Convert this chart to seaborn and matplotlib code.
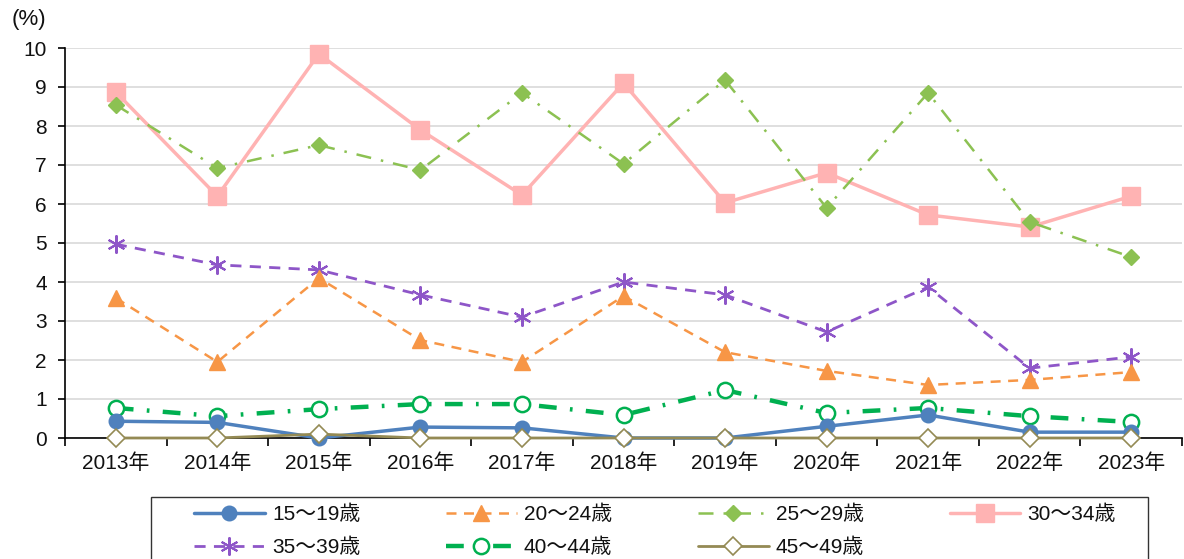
import matplotlib
matplotlib.use("Agg")
import matplotlib.pyplot as plt
from matplotlib.patches import Rectangle
import seaborn as sns
import pandas as pd

years = ["2013年", "2014年", "2015年", "2016年", "2017年", "2018年",
         "2019年", "2020年", "2021年", "2022年", "2023年"]
age_groups = ["15～19歳", "20～24歳", "25～29歳", "30～34歳",
              "35～39歳", "40～44歳", "45～49歳"]

rate_15_19 = [0.43, 0.40, 0.00, 0.28, 0.26, 0.00, 0.00, 0.30, 0.59, 0.15, 0.15]
rate_20_24 = [3.59, 1.95, 4.10, 2.51, 1.95, 3.64, 2.20, 1.72, 1.36, 1.49, 1.69]
rate_25_29 = [8.54, 6.92, 7.51, 6.87, 8.85, 7.03, 9.18, 5.90, 8.85, 5.54, 4.64]
rate_30_34 = [8.87, 6.20, 9.85, 7.90, 6.23, 9.10, 6.03, 6.80, 5.72, 5.41, 6.20]
rate_35_39 = [4.97, 4.44, 4.31, 3.67, 3.10, 4.00, 3.67, 2.72, 3.87, 1.79, 2.08]
rate_40_44 = [0.77, 0.56, 0.74, 0.87, 0.87, 0.59, 1.23, 0.64, 0.77, 0.56, 0.41]
rate_45_49 = [0.00, 0.00, 0.10, 0.00, 0.00, 0.00, 0.00, 0.00, 0.00, 0.00, 0.00]

series = [rate_15_19, rate_20_24, rate_25_29, rate_30_34,
          rate_35_39, rate_40_44, rate_45_49]

sns.set_theme(style="white")
plt.rcParams["font.family"] = ["Liberation Sans", "Noto Sans CJK JP", "DejaVu Sans"]

df = pd.DataFrame({
    "year": years * len(age_groups),
    "group": [g for g in age_groups for _ in years],
    "rate": [v for s in series for v in s],
})

styles = {
    "15～19歳": dict(color="#4f81bd", ls="-", lw=2.5, marker="o", ms=10,
                    mfc="#4f81bd", mec="#4f81bd", mew=1.5),
    "20～24歳": dict(color="#f79646", ls=(0, (4, 3)), lw=1.8, marker="^", ms=12,
                    mfc="#f79646", mec="#f79646", mew=1.0),
    "25～29歳": dict(color="#8cc152", ls=(0, (6, 4, 1, 4)), lw=1.8, marker="D", ms=8,
                    mfc="#8cc152", mec="#8cc152", mew=1.0),
    "30～34歳": dict(color="#ffb3b3", ls="-", lw=2.5, marker="s", ms=13,
                    mfc="#ffb3b3", mec="#ffb3b3", mew=1.0),
    "35～39歳": dict(color="#8e56c8", ls=(0, (4, 3)), lw=2.0, marker=(6, 2, 0), ms=13,
                    mfc="#8e56c8", mec="#8e56c8", mew=1.5),
    "40～44歳": dict(color="#00b050", ls=(0, (4, 3, 0.6, 3)), lw=3.2, marker="o", ms=11,
                    mfc="white", mec="#00b050", mew=1.8),
    "45～49歳": dict(color="#948a54", ls="-", lw=2.0, marker="D", ms=9,
                    mfc="white", mec="#948a54", mew=1.2),
}

W, H = 1184, 559
fig = plt.figure(figsize=(W / 100, H / 100), dpi=100)
ax = fig.add_axes([65 / W, 1 - 438 / H, (1182 - 65) / W, (438 - 48) / H])

# Layering: the pink and green series sit under the rest, the 45～49 line on top
order = ["30～34歳", "25～29歳", "35～39歳", "20～24歳", "40～44歳", "15～19歳", "45～49歳"]
for g in order:
    st = styles[g]
    sub = df[df["group"] == g]
    sns.lineplot(data=sub, x="year", y="rate", ax=ax, color=st["color"],
                 linewidth=st["lw"], linestyle=st["ls"], marker=st["marker"],
                 markersize=st["ms"], markerfacecolor=st["mfc"],
                 markeredgecolor=st["mec"], markeredgewidth=st["mew"],
                 label=g, sort=False, errorbar=None, legend=False, clip_on=False)

ax.set_xlim(-0.5, len(years) - 0.5)
ax.set_ylim(0, 10)
ax.set_yticks(range(0, 11))
ax.set_xticks(range(len(years)))
ax.set_xticklabels(years)
ax.set_xticks([i - 0.5 for i in range(len(years) + 1)], minor=True)
ax.grid(axis="y", color="#d9d9d9", linewidth=1.2)
ax.grid(axis="x", visible=False)
ax.set_axisbelow(True)
ax.set_xlabel("")
ax.set_ylabel("")

for side in ["top", "right"]:
    ax.spines[side].set_visible(False)
for side in ["left", "bottom"]:
    ax.spines[side].set_visible(True)
    ax.spines[side].set_color("black")
    ax.spines[side].set_linewidth(1.2)
    ax.spines[side].set_zorder(1.5)

ax.tick_params(axis="y", which="major", direction="out", length=5, width=1.2,
               color="black", labelsize=15, pad=8, left=True)
ax.tick_params(axis="x", which="major", length=0, labelsize=15, pad=11)
ax.tick_params(axis="x", which="minor", direction="out", length=6, width=1.2,
               color="black", bottom=True)
for lab in ax.get_yticklabels() + ax.get_xticklabels():
    lab.set_color("#111111")

fig.text(12 / W, 1 - 20 / H, "(%)", fontsize=16, va="center", ha="left",
         color="#111111")

# Legend box: a plain frame running off the bottom edge of the figure
fig.patches.append(Rectangle((151 / W, -0.05), (1148 - 151) / W, (H - 497) / H + 0.05,
                             transform=fig.transFigure, fill=False,
                             edgecolor="#333333", linewidth=1.0, clip_on=False))

# Legend filled row by row: matplotlib fills columns, so interleave the handles
handles_by_label = {l.get_label(): l for l in ax.get_lines()}
ncol = 4
rows = [age_groups[:ncol], age_groups[ncol:]]
leg_labels = []
for c in range(ncol):
    for r in rows:
        if c < len(r):
            leg_labels.append(r[c])
handles = [handles_by_label[g] for g in leg_labels]
leg = fig.legend(handles, leg_labels, loc="upper left",
                 bbox_to_anchor=(194 / W, 1 - 505 / H), ncol=ncol,
                 frameon=False, fontsize=15, handlelength=3.4,
                 columnspacing=4.1, handletextpad=0.35, borderpad=0,
                 labelspacing=0.65, borderaxespad=0)
for t in leg.get_texts():
    t.set_color("#111111")

fig.savefig("out.png", dpi=100)
